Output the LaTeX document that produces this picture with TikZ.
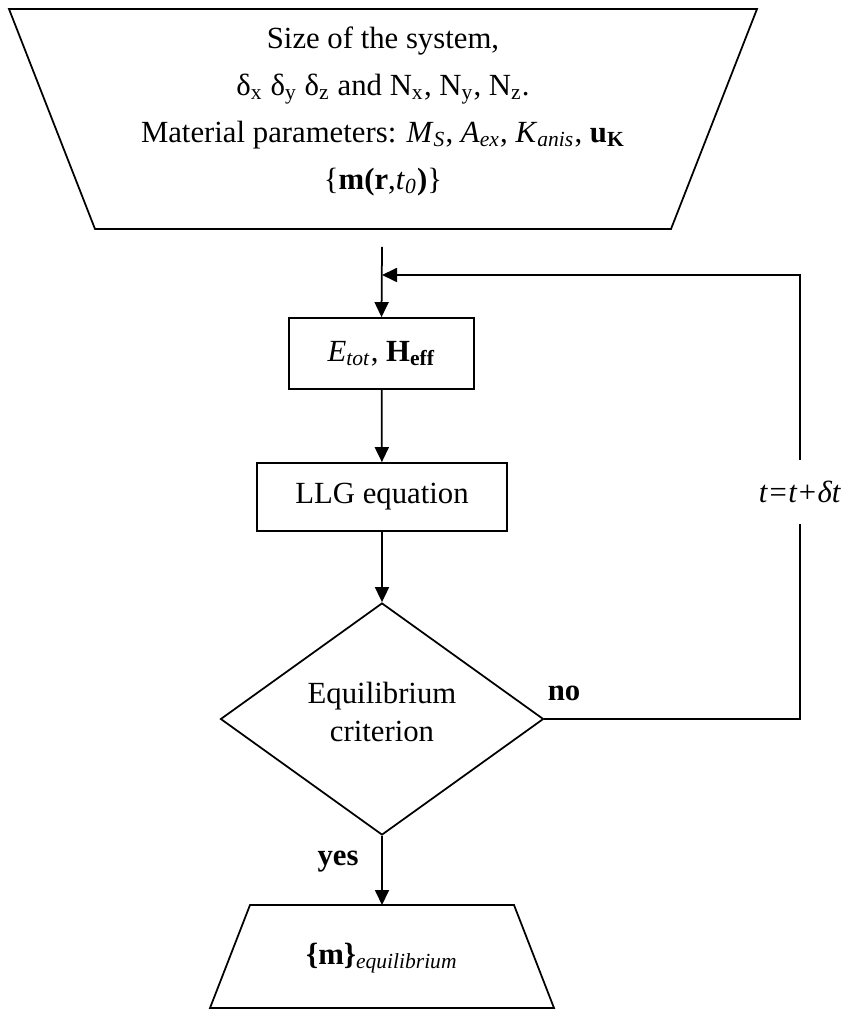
\documentclass[tikz,border=0pt]{standalone}
\usepackage{fontspec}
\setmainfont{Liberation Serif}
\usetikzlibrary{shapes.geometric,arrows.meta}
\tikzset{
    every node/.style={font=\fontsize{12.3}{15.2}\selectfont},
    block/.style={draw, inner sep=0pt},
    lbl/.style={font=\fontsize{12.3}{15.2}\selectfont\bfseries},
}

\begin{document}
\begin{tikzpicture}[x=0.4pt,y=-0.4pt,line width=0.7pt,>={Triangle[length=6pt,width=5.6pt]}]
            \useasboundingbox (0,0) rectangle (843,1010);
            % input data
            \draw (9,9) -- (757,9) -- (671,229) -- (95,229) -- cycle;
            \node[align=center, font=\fontsize{12.3}{18.8}\selectfont] (input) at (383,111)
                {Size of the system,\\
                 δ\textsubscript{x} δ\textsubscript{y} δ\textsubscript{z} and N\textsubscript{x}, N\textsubscript{y}, N\textsubscript{z}.\\
                 Material parameters: \textit{M}\textsubscript{\textit{S}}, \textit{A}\textsubscript{\textit{ex}}, \textit{K}\textsubscript{\textit{anis}}, \textbf{u}\textsubscript{\textbf{K}}\\
                 \{\textbf{m(r},\textit{t}\textsubscript{\textit{0}}\textbf{)}\}};
            \node[block, minimum width=74pt, minimum height=28.4pt] (energy) at (381.5,353.5)
                {\textit{E}\textsubscript{\textit{tot}}, \textbf{H}\textsubscript{\textbf{eff}}};
            \node[block, minimum width=100pt, minimum height=27.2pt] (llg) at (382,497) {LLG equation};
            \node[block, diamond, minimum width=129.2pt, minimum height=92.8pt] (check) at (382,719) {};
            \node[align=center] (crit) at (382,712) {Equilibrium\\criterion};
            % output
            \draw (250,905) -- (514,905) -- (554,1008) -- (210,1008) -- cycle;
            \node (result) at (382,958) {\textbf{\{m\}}\textsubscript{\textit{equilibrium}}};
            \node[inner ysep=8pt] (tstep) at (800,492) {\textit{t=t+δt}};
            \node[lbl] (no) at (564,693) {no};
            \node[lbl] (yes) at (338,862) {yes};
            \coordinate (start) at (382,247);
            \coordinate (join) at (382,275);
            \coordinate (resulttop) at (382,905);
            % main line
            \draw[->] (start) -- (energy.north);
            \draw[->] (energy) -- (llg);
            \draw[->] (llg) -- (check);
            \draw[->] (check.south) -- (resulttop);
            % loop back
            \draw (check.east) -| (tstep.south);
            \draw[->] (tstep.north) |- (join);
        \end{tikzpicture}
\end{document}
